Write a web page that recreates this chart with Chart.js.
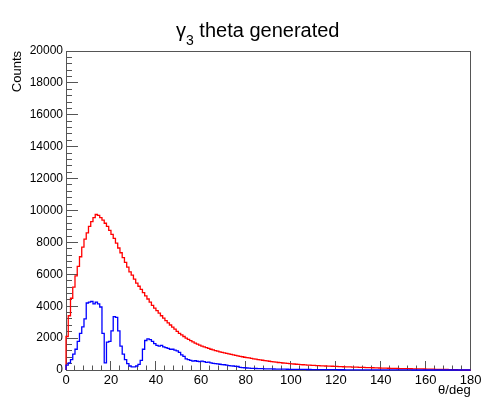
<!DOCTYPE html>
<html>
<head>
<meta charset="utf-8">
<script src="https://cdn.jsdelivr.net/npm/chart.js@4.4.1/dist/chart.umd.min.js"></script>
<style>
  body { margin: 0; background: #fff; }
  #wrap { position: relative; width: 484px; height: 398px; }
  #title {
    position: absolute; left: 176px; top: 20px;
    font: 20px "Liberation Sans", Arial, sans-serif; line-height: 20px;
    color: #000; white-space: nowrap;
  }
  #title sub { font-size: 14px; vertical-align: -8px; line-height: 0; }
</style>
</head>
<body>
<div id="wrap">
  <canvas id="chart" width="484" height="398"></canvas>
  <div id="title">γ<sub>3</sub> theta generated</div>
</div>
<script>
// 1-degree bins, 0..179 deg
const binEdges = { min: 0, max: 180 };

const generated = [
  650, 2100, 3400, 4500, 5200, 5900, 6500, 7100, 7700, 8200,
  8600, 9000, 9300, 9550, 9750, 9700, 9550, 9400, 9200, 9000,
  8750, 8500, 8250, 7950, 7650, 7350, 7050, 6750, 6450, 6150,
  5950, 5700, 5450, 5250, 5050, 4850, 4650, 4450, 4250, 4050,
  3880, 3720, 3560, 3400, 3250, 3100, 2950, 2820, 2690, 2560,
  2420, 2300, 2200, 2100, 2000, 1920, 1840, 1760, 1690, 1620,
  1560, 1500, 1450, 1400, 1350, 1300, 1260, 1220, 1180, 1140,
  1100, 1070, 1040, 1010, 980, 950, 920, 890, 860, 830,
  800, 780, 760, 730, 700, 680, 650, 630, 610, 590,
  570, 550, 530, 510, 490, 470, 460, 440, 430, 410,
  400, 390, 375, 360, 350, 340, 330, 320, 310, 300,
  290, 285, 275, 270, 260, 255, 250, 245, 240, 235,
  230, 225, 215, 210, 205, 200, 195, 190, 185, 180,
  175, 170, 165, 160, 155, 150, 145, 140, 135, 130,
  125, 120, 118, 115, 110, 105, 100, 98, 95, 92,
  90, 85, 82, 80, 78, 75, 72, 70, 68, 65,
  62, 60, 55, 52, 50, 45, 42, 40, 35, 32,
  30, 25, 22, 18, 15, 10, 5, 0, 0, 0
];

const detected = [
  100, 300, 450, 650, 1000, 1300, 1800, 2300, 2700, 3200,
  4200, 4250, 4300, 4150, 4250, 4150, 3950, 2300, 450, 1750,
  1800, 2450, 3350, 3300, 2450, 1500, 1000, 650, 400, 250,
  200, 200, 250, 350, 600, 1300, 1850, 1950, 1900, 1800,
  1650, 1550, 1500, 1550, 1450, 1400, 1350, 1300, 1300, 1250,
  1200, 1100, 950, 850, 700, 650, 600, 560, 580, 550,
  520, 560, 530, 480, 500, 450, 420, 400, 380, 360,
  340, 330, 300, 280, 260, 250, 230, 220, 170, 155,
  140, 125, 115, 105, 100, 95, 90, 85, 80, 75,
  70, 68, 65, 62, 60, 57, 55, 52, 50, 48,
  45, 43, 41, 40, 38, 36, 35, 33, 32, 30,
  29, 28, 27, 26, 25, 24, 23, 22, 21, 20,
  20, 18, 17, 16, 15, 14, 13, 12, 11, 10,
  10, 9, 9, 8, 8, 7, 7, 6, 6, 5,
  5, 5, 4, 4, 4, 3, 3, 3, 3, 2,
  2, 2, 2, 2, 2, 1, 1, 1, 1, 1,
  1, 1, 1, 1, 1, 1, 0, 0, 0, 0,
  0, 0, 0, 0, 0, 0, 0, 0, 0, 0
];

const yRange = { min: 0, max: 20000, major: 2000, minor: 400 };
const xRange = { min: 0, max: 180, major: 20, minor: 4 };

// histogram outline: start on baseline, one point per bin low edge, close at upper edge
function histPoints(values) {
  const pts = [{ x: binEdges.min, y: 0 }];
  values.forEach((v, i) => pts.push({ x: binEdges.min + i, y: v }));
  pts.push({ x: binEdges.max, y: values[values.length - 1] });
  pts.push({ x: binEdges.max, y: 0 });
  return pts;
}

const FONT = "'Liberation Sans', Arial, sans-serif";
const AXIS = "#555";

const fixWidth = w => scale => { scale.width = w; };
const fixHeight = h => scale => { scale.height = h; };
const plain = v => String(v);

// unlabelled axis used only for its inward tick marks
function tickAxis(axis, position, range, step, len) {
  return {
    type: "linear", axis, position, weight: 0,
    min: range.min, max: range.max,
    ticks: { display: false, stepSize: step },
    grid: { drawOnChartArea: false, tickLength: -len, tickColor: AXIS },
    border: { display: false },
    afterFit: axis === "x" ? fixHeight(0) : fixWidth(0),
  };
}

new Chart(document.getElementById("chart"), {
  type: "line",
  data: {
    datasets: [
      {
        label: "detected",
        data: histPoints(detected),
        borderColor: "#0000ff",
        borderWidth: 1.3,
        stepped: "after",
        pointRadius: 0,
        fill: false,
        clip: false,
      },
      {
        label: "generated",
        data: histPoints(generated),
        borderColor: "#ff0000",
        borderWidth: 1.3,
        stepped: "after",
        pointRadius: 0,
        fill: false,
        clip: false,
      },
    ],
  },
  options: {
    responsive: false,
    animation: false,
    layout: { padding: 0 },
    plugins: { legend: { display: false }, tooltip: { enabled: false } },
    scales: {
      x: {
        type: "linear", position: "bottom", weight: 1,
        min: xRange.min, max: xRange.max,
        ticks: { stepSize: xRange.major, padding: 2.5, color: "#000", font: { family: FONT, size: 13 }, maxRotation: 0, callback: plain },
        grid: { drawOnChartArea: false, drawTicks: false },
        border: { display: true, color: AXIS },
        title: { display: true, text: "θ/deg", align: "end", color: "#000", font: { family: FONT, size: 13 }, padding: { top: 0, bottom: 0 } },
        afterFit: fixHeight(28),
      },
      xMajor: tickAxis("x", "bottom", xRange, xRange.major, 9),
      xMinor: tickAxis("x", "bottom", xRange, xRange.minor, 4.5),
      xTop: {
        type: "linear", axis: "x", position: "top",
        min: xRange.min, max: xRange.max,
        ticks: { display: false },
        grid: { display: false },
        border: { display: true, color: AXIS },
        afterFit: fixHeight(51),
      },
      y: {
        type: "linear", position: "left", weight: 1,
        min: yRange.min, max: yRange.max,
        ticks: { stepSize: yRange.major, padding: 3, color: "#000", font: { family: FONT, size: 12 }, callback: plain },
        grid: { drawOnChartArea: false, drawTicks: false },
        border: { display: true, color: AXIS },
        title: { display: true, text: "Counts", align: "end", color: "#000", font: { family: FONT, size: 13 }, padding: { top: 10, bottom: 0 } },
        afterFit: fixWidth(66),
      },
      yMajor: tickAxis("y", "left", yRange, yRange.major, 12),
      yMinor: tickAxis("y", "left", yRange, yRange.minor, 6),
      yRight: {
        type: "linear", axis: "y", position: "right",
        min: yRange.min, max: yRange.max,
        ticks: { display: false },
        grid: { display: false },
        border: { display: true, color: AXIS },
        afterFit: fixWidth(13),
      },
    },
  },
});
</script>
</body>
</html>
